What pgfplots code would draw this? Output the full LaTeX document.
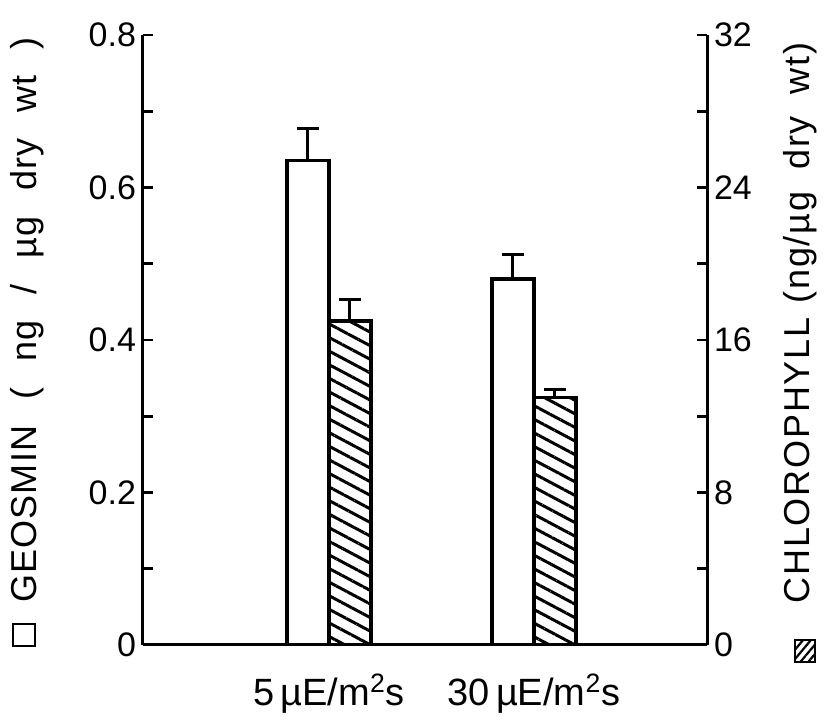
\documentclass[border=0pt]{standalone}
\usepackage{fontspec}
\setmainfont{Liberation Sans}
\newfontfamily\spaced[LetterSpace=3]{Liberation Sans}
\newfontfamily\spacedR[LetterSpace=5]{Liberation Sans}
\usepackage{pgfplots}
\pgfplotsset{compat=1.18}
\usetikzlibrary{patterns.meta}

\begin{document}
\begin{tikzpicture}
% common frame: 1 px of the reference = 0.5pt
\pgfplotsset{
  myframe/.style={
    width=282pt, height=305pt, scale only axis,
    xmin=0.093, xmax=2.844,
    ymin=0,
    axis line style={-, line width=1.5pt},
    tick align=inside,
    major tick length=5pt, minor tick length=5pt,
    tick style={line width=1.3pt, black},
    ticklabel style={font=\fontsize{17}{20}\selectfont},
    /pgf/number format/assume math mode=true,
    ybar, bar width=0.205,
  },
  mybars/.style={
    draw=black, line width=1.6pt,
    error bars/.cd, y dir=plus, y explicit,
    error bar style={line width=1.5pt},
    error mark=-,
    error mark options={rotate=90, black, line width=1.5pt, mark size=5.5pt},
  }
}
\begin{axis}[myframe,
    ymax=0.8,
    axis x line*=bottom, axis y line*=left,
    ytick={0,0.2,0.4,0.6,0.8},
    yticklabels={0,0.2,0.4,0.6,0.8},
    minor ytick={0.1,0.3,0.5,0.7},
    xtick={1,2},
    xticklabels={5\,µE/m\textsuperscript{2}s, 30\,µE/m\textsuperscript{2}s},
    xtick style={draw=none},
    xticklabel style={yshift=-6pt, font=\fontsize{19}{22}\selectfont},
  ]
  % geosmin, ng/ug dry wt
  \addplot[fill=white, bar shift=-0.1025, mybars]
    coordinates {(1,0.635) +- (0,0.042) (2,0.48) +- (0,0.032)};
  \coordinate (o) at (rel axis cs:0,0);
\end{axis}
\begin{axis}[myframe,
    ymax=32,
    axis x line=none, axis y line*=right,
    ytick={0,8,16,24,32},
    minor ytick={4,12,20,28},
    xtick=\empty,
  ]
  % chlorophyll, ng/ug dry wt
  \addplot[bar shift=0.1025,
    pattern={Lines[angle=-28, distance=6pt, line width=1.5pt]}, mybars]
    coordinates {(1,17.0) +- (0,1.1) (2,13.0) +- (0,0.4)};
\end{axis}
% labels and key boxes
\node[rotate=90, font=\fontsize{18}{21}\selectfont\spaced] at ([shift={(-58pt,162.5pt)}]o)
  {GEOSMIN\hspace{13pt}(\hspace{13pt}ng\hspace{13pt}/\hspace{13pt}µg\hspace{13pt}dry\hspace{13pt}wt\hspace{13pt})};
\draw[line width=1.2pt] ([shift={(-65pt,-0.5pt)}]o) rectangle ++(11pt,11pt);
\node[rotate=90, font=\fontsize{18}{21}\selectfont\spacedR] at ([shift={(328.5pt,161pt)}]o)
  {CHLOROPHYLL\hspace{7pt}(ng/µg\hspace{11pt}dry\hspace{11pt}wt)};
\draw[line width=1.2pt, pattern={Lines[angle=50, distance=3pt, line width=1.1pt]}]
  ([shift={(326pt,-8.5pt)}]o) rectangle ++(10pt,11pt);
\path[use as bounding box] ([shift={(-71.5pt,-33pt)}]o) rectangle ++(413pt,355.5pt);
\end{tikzpicture}
\end{document}
